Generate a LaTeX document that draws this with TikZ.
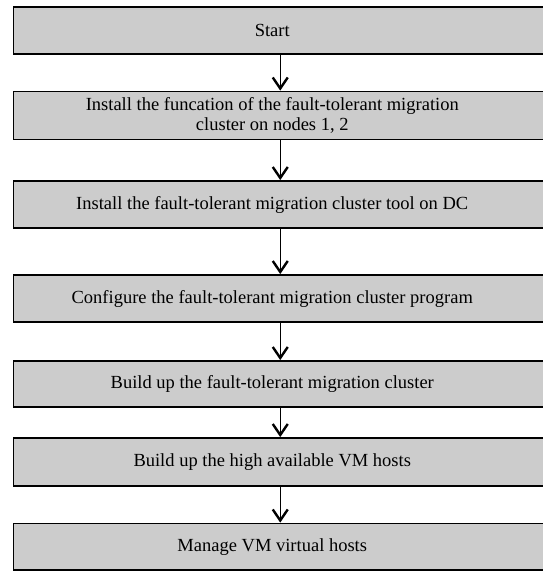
\documentclass[tikz,border=0pt]{standalone}
\usepackage{fontspec}
\setmainfont{Liberation Serif}
\usetikzlibrary{arrows.meta}
\begin{document}
\begin{tikzpicture}[x=1pt,y=-1pt,
  stepbox/.style={draw=black,line width=1.8pt,fill=boxgray,minimum width=533.5pt,
     inner sep=0pt},
  steptext/.style={xshift=-8pt,inner sep=0pt,align=center,
     font=\fontsize{18.5}{20.5}\selectfont,text=black},
  flow/.style={line width=1.4pt,-{Straight Barb[length=11pt,width=15pt,line width=2.4pt]}}]
\definecolor{boxgray}{HTML}{CCCCCC}
\useasboundingbox (0,0) rectangle (543,571);
\clip (0,0) rectangle (543,571);
\node[stepbox,minimum height=47pt,label={[steptext]center:Start}] (s1) at (280.25,30.5) {};
\node[stepbox,minimum height=48pt,label={[steptext]center:Install the funcation of the fault-tolerant migration\\cluster on nodes 1, 2}] (s2) at (280.25,115.5) {};
\node[stepbox,minimum height=47pt,label={[steptext]center:Install the fault-tolerant migration cluster tool on DC}] (s3) at (280.25,204.5) {};
\node[stepbox,minimum height=47pt,label={[steptext]center:Configure the fault-tolerant migration cluster program}] (s4) at (280.25,298.5) {};
\node[stepbox,minimum height=46pt,label={[steptext]center:Build up the fault-tolerant migration cluster}] (s5) at (280.25,384) {};
\node[stepbox,minimum height=48pt,label={[steptext]center:Build up the high available VM hosts}] (s6) at (280.25,462) {};
\node[stepbox,minimum height=46.5pt,label={[steptext]center:Manage VM virtual hosts}] (s7) at (280.25,546.75) {};
\foreach \a/\b in {s1/s2,s2/s3,s3/s4,s4/s5,s5/s6,s6/s7}
  \draw[flow] (\a.south) -- (\b.north);
\end{tikzpicture}
\end{document}
